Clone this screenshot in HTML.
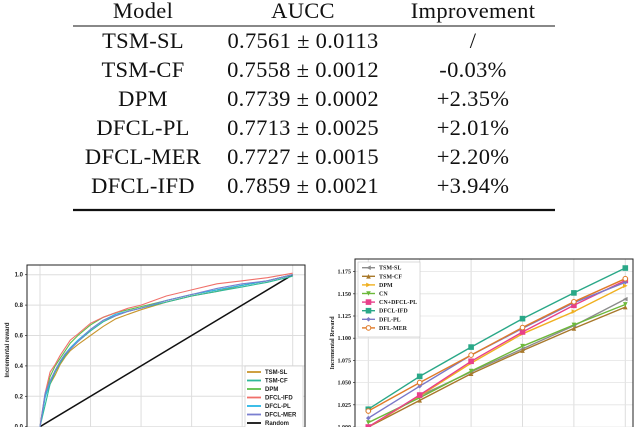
<!DOCTYPE html>
<html><head><meta charset="utf-8"><style>
html,body{margin:0;padding:0;background:#fff;width:640px;height:427px;overflow:hidden}
svg{display:block}
.t{font-family:"Liberation Serif",serif;font-size:22.5px;fill:#111;text-anchor:middle;letter-spacing:0.3px}
.tk{font-family:"Liberation Sans",sans-serif;font-size:6px;font-weight:bold;fill:#222}
.tk2{font-family:"Liberation Serif",serif;font-size:6px;font-weight:bold;fill:#222}
</style></head><body>
<svg id="root" width="640" height="427" viewBox="0 0 640 427">
<g>
<text class="t" x="143" y="18">Model</text>
<text class="t" x="303" y="18">AUCC</text>
<text class="t" x="473" y="18">Improvement</text>
<line x1="73" y1="26" x2="555" y2="26" stroke="#111" stroke-width="1"/>
<g id="rows"></g>
<line x1="73" y1="210" x2="555" y2="210" stroke="#111" stroke-width="2.2"/>
</g>
<g id="left"></g>
<g id="right"></g>
</svg>
<script>
const NS="http://www.w3.org/2000/svg";
function mk(p,tag,a,txt){const e=document.createElementNS(NS,tag);for(const k in a)e.setAttribute(k,a[k]);if(txt!==undefined)e.textContent=txt;p.appendChild(e);return e;}

// table
const tModels=["TSM-SL","TSM-CF","DPM","DFCL-PL","DFCL-MER","DFCL-IFD"];
const tAucc=["0.7561 ± 0.0113","0.7558 ± 0.0012","0.7739 ± 0.0002","0.7713 ± 0.0025","0.7727 ± 0.0015","0.7859 ± 0.0021"];
const tImpr=["/","-0.03%","+2.35%","+2.01%","+2.20%","+3.94%"];
const rows=document.getElementById('rows');
tModels.forEach((m,i)=>{const y=48+i*29;
 let a=mk(rows,'text',{class:'t',x:143,y:y},m);
 
 
 let b=mk(rows,'text',{class:'t',x:303,y:y},tAucc[i]);
 
 
 let c=mk(rows,'text',{class:'t',x:473,y:y},tImpr[i]);
 
 
});

// left chart
const lX=[0,0.02,0.04,0.06,0.08,0.1,0.12,0.15,0.2,0.25,0.3,0.35,0.4,0.5,0.6,0.7,0.8,0.9,1];
const lNames=["TSM-SL","TSM-CF","DPM","DFCL-IFD","DFCL-PL","DFCL-MER"];
const lColors=["#c8962e","#2fb99a","#5cbf4a","#f0706a","#29b6e6","#7a7fd0"];
const lTSMSL=[0,0.2,0.28,0.34,0.41,0.46,0.5,0.54,0.6,0.66,0.71,0.74,0.77,0.82,0.86,0.89,0.93,0.96,1.0];
const lTSMCF=[0,0.14,0.28,0.36,0.42,0.47,0.51,0.56,0.63,0.69,0.73,0.76,0.78,0.82,0.86,0.89,0.92,0.95,0.99];
const lDPM=[0,0.2,0.33,0.4,0.45,0.5,0.55,0.6,0.67,0.72,0.75,0.77,0.79,0.83,0.87,0.9,0.93,0.96,1.0];
const lIFD=[0,0.22,0.36,0.41,0.47,0.52,0.57,0.61,0.68,0.72,0.75,0.78,0.8,0.86,0.9,0.94,0.96,0.98,1.01];
const lPL=[0,0.19,0.3,0.37,0.43,0.48,0.52,0.57,0.64,0.7,0.74,0.76,0.78,0.83,0.87,0.9,0.93,0.96,1.0];
const lMER=[0,0.22,0.3,0.37,0.43,0.48,0.51,0.56,0.64,0.7,0.73,0.76,0.78,0.83,0.87,0.91,0.94,0.96,1.0];
const lSeries=[lTSMSL,lTSMCF,lDPM,lIFD,lPL,lMER];
const lYTicks=["0.0","0.2","0.4","0.6","0.8","1.0"];
const L=document.getElementById('left');
const lx=v=>40+v*252.7, ly=v=>426.7-v*152;
mk(L,'rect',{x:27,y:265,width:278,height:170,fill:'#fff'});
[0,0.2,0.4,0.6,0.8,1].forEach(v=>{
 let g=mk(L,'line',{x1:lx(v),y1:265,x2:lx(v),y2:427,stroke:'#ddd','stroke-width':1});
 
 
});
lYTicks.forEach(t=>{const v=+t;
 let g=mk(L,'line',{x1:27,y1:ly(v),x2:305,y2:ly(v),stroke:'#ddd','stroke-width':1});
 
 
 mk(L,'line',{x1:25,y1:ly(v),x2:27,y2:ly(v),stroke:'#222','stroke-width':0.7});
 let tx=mk(L,'text',{class:'tk',x:23,y:ly(v)+2,'text-anchor':'end'},t);
 
 
});
let rnd=mk(L,'line',{x1:lx(0),y1:ly(0),x2:lx(1),y2:ly(1),stroke:'#111','stroke-width':1.5});


lSeries.forEach((s,i)=>{
 const d=s.map((v,j)=>(j?'L':'M')+lx(lX[j]).toFixed(1)+','+ly(v).toFixed(1)).join('');
 let p=mk(L,'path',{d:d,fill:'none',stroke:lColors[i],'stroke-width':1.1});
 
 
});
mk(L,'rect',{x:27,y:265,width:278,height:170,fill:'none',stroke:'#222','stroke-width':1});
let yt=mk(L,'text',{class:'tk',x:0,y:0,transform:'translate(9,350) rotate(-90)','text-anchor':'middle','font-size':'7.5'},'Incremental reward');


let lg=mk(L,'g',{});


mk(lg,'rect',{x:245,y:366,width:58,height:70,fill:'#fff',stroke:'#ccc','stroke-width':0.7});
lNames.concat(['Random']).forEach((n,i)=>{const y=372+i*8.5;
 mk(lg,'line',{x1:247,y1:y,x2:261,y2:y,stroke:i<6?lColors[i]:'#111','stroke-width':1.8});
 let t=mk(lg,'text',{class:'tk',x:265,y:y+2},n);
 
 
});

// right chart
const rX=[0,1,2,3,4,5];
const rNames=["TSM-SL","TSM-CF","DPM","CN","CN+DFCL-PL","DFCL-IFD","DFL-PL","DFL-MER"];
const rColors=["#8c8c8c","#a8782a","#f0b020","#6cb83a","#e8408a","#2aa888","#7a78c8","#e07a28"];
const rMarkers=["<","^",">","v","s","s","d","o"];
const rTSMSL=[1.000,1.035,1.062,1.088,1.114,1.144];
const rTSMCF=[1.000,1.030,1.060,1.086,1.111,1.135];
const rDPM=[1.000,1.035,1.072,1.105,1.130,1.159];
const rCN=[1.005,1.033,1.063,1.091,1.115,1.138];
const rCNPL=[1.000,1.036,1.074,1.107,1.137,1.165];
const rIFD=[1.020,1.057,1.090,1.122,1.151,1.179];
const rPL=[1.010,1.046,1.081,1.111,1.140,1.163];
const rMER=[1.018,1.050,1.081,1.112,1.141,1.167];
const rSeries=[rTSMSL,rTSMCF,rDPM,rCN,rCNPL,rIFD,rPL,rMER];
const rYTicks=["1.000","1.025","1.050","1.075","1.100","1.125","1.150","1.175"];
const R=document.getElementById('right');
const rx=v=>368.3+v*51.4, ry=v=>427-(v-1)*888;
rX.forEach(v=>{
 let g=mk(R,'line',{x1:rx(v),y1:259,x2:rx(v),y2:427,stroke:'#ddd','stroke-width':1});
 
 
});
rYTicks.forEach(t=>{const v=+t;
 mk(R,'line',{x1:355,y1:ry(v),x2:633,y2:ry(v),stroke:'#e4e4e4','stroke-width':0.8});
 mk(R,'line',{x1:353,y1:ry(v),x2:355,y2:ry(v),stroke:'#222','stroke-width':0.7});
 let tx=mk(R,'text',{class:'tk2',x:351,y:ry(v)+2,'text-anchor':'end'},t);
 
 
});
function marker(p,m,x,y,c){
 const r=2.3;let pts;
 if(m==='s')return mk(p,'rect',{x:x-r,y:y-r,width:2*r,height:2*r,fill:c,stroke:c});
 if(m==='o')return mk(p,'circle',{cx:x,cy:y,r:r,fill:'#fff',stroke:c,'stroke-width':1});
 if(m==='^')pts=[[x,y-r],[x+r,y+r],[x-r,y+r]];
 if(m==='v')pts=[[x,y+r],[x+r,y-r],[x-r,y-r]];
 if(m==='<')pts=[[x-r,y],[x+r,y-r],[x+r,y+r]];
 if(m==='>')pts=[[x+r,y],[x-r,y-r],[x-r,y+r]];
 if(m==='d')pts=[[x,y-r],[x+r,y],[x,y+r],[x-r,y]];
 return mk(p,'polygon',{points:pts.map(q=>q.join(',')).join(' '),fill:c});
}
rSeries.forEach((s,i)=>{
 const g=mk(R,'g',{});
 
 
 const d=s.map((v,j)=>(j?'L':'M')+rx(rX[j]).toFixed(1)+','+ry(v).toFixed(1)).join('');
 mk(g,'path',{d:d,fill:'none',stroke:rColors[i],'stroke-width':1.4});
 s.forEach((v,j)=>{
  let m=marker(g,rMarkers[i],rx(rX[j]),ry(v),rColors[i]);
  
  
 });
});
mk(R,'rect',{x:355,y:259,width:278,height:175,fill:'none',stroke:'#222','stroke-width':1});
let yt2=mk(R,'text',{class:'tk2',x:0,y:0,transform:'translate(334,343) rotate(-90)','text-anchor':'middle','font-size':'8'},'Incremental Reward');


let lg2=mk(R,'g',{});


mk(lg2,'rect',{x:358,y:262,width:62,height:75,fill:'#fff',stroke:'#ccc','stroke-width':0.7});
rNames.forEach((n,i)=>{const y=267.7+i*8.6;
 mk(lg2,'line',{x1:362,y1:y,x2:375,y2:y,stroke:rColors[i],'stroke-width':1.4});
 marker(lg2,rMarkers[i],368.5,y,rColors[i]);
 let t=mk(lg2,'text',{class:'tk2',x:379,y:y+2},n);
 
 
});
</script>
</body></html>
